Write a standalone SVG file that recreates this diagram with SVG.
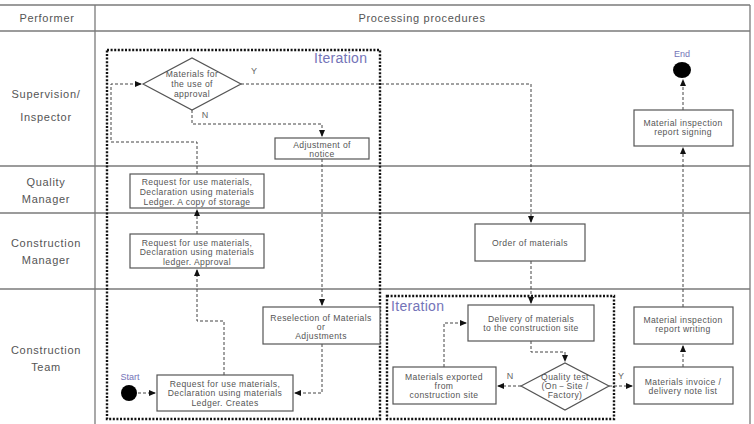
<svg xmlns="http://www.w3.org/2000/svg" width="754" height="424" viewBox="0 0 754 424">
<style>
.grid{stroke:#7a7a7a;stroke-width:1.3;fill:none}
.hdr{font-family:"Liberation Sans",Arial,sans-serif;font-size:11px;fill:#555;text-anchor:middle;letter-spacing:0.7px}
.box{fill:#fff;stroke:#555;stroke-width:1.2}
.t{font-family:"Liberation Sans",Arial,sans-serif;font-size:8.6px;fill:#555;text-anchor:middle;letter-spacing:0.4px}
.lbl{font-family:"Liberation Sans",Arial,sans-serif;font-size:9px;fill:#666;text-anchor:middle}
.iter{fill:none;stroke:#111;stroke-width:2.4;stroke-dasharray:2 1.6}
.itl{font-family:"Liberation Sans",Arial,sans-serif;font-size:14px;fill:#7474b8;letter-spacing:0.3px}
.blue{font-family:"Liberation Sans",Arial,sans-serif;font-size:9px;fill:#7474b8;text-anchor:middle}
.c{fill:none;stroke:#444;stroke-width:1;stroke-dasharray:3 2}
</style>
<defs>
<marker id="ah" markerWidth="7" markerHeight="6" refX="6" refY="3" orient="auto" markerUnits="userSpaceOnUse">
<path d="M0,0 L7,3 L0,6 z" fill="#111"/>
</marker>
</defs>
<rect width="754" height="424" fill="#fff"/>
<g id="table">
<line class="grid" x1="0" y1="5" x2="750" y2="5"/>
<line class="grid" x1="0" y1="31" x2="750" y2="31"/>
<line class="grid" x1="0" y1="166" x2="750" y2="166"/>
<line class="grid" x1="0" y1="213" x2="750" y2="213"/>
<line class="grid" x1="0" y1="289" x2="750" y2="289"/>
<line class="grid" x1="95" y1="5" x2="95" y2="424"/>
<line class="grid" x1="750" y1="5" x2="750" y2="424"/>
<text class="hdr" x="47" y="22">Performer</text>
<text class="hdr" x="422" y="22">Processing procedures</text>
<text class="hdr" x="46" y="98">Supervision/</text>
<text class="hdr" x="46" y="121">Inspector</text>
<text class="hdr" x="46" y="186">Quality</text>
<text class="hdr" x="46" y="203">Manager</text>
<text class="hdr" x="46" y="247">Construction</text>
<text class="hdr" x="46" y="264">Manager</text>
<text class="hdr" x="46" y="354">Construction</text>
<text class="hdr" x="46" y="371">Team</text>
</g>
<g id="iteration1">
<rect class="iter" x="107" y="50" width="273" height="369"/>
<text class="itl" x="314" y="63">Iteration</text>
</g>
<g id="iteration2">
<rect class="iter" x="387" y="296" width="227" height="123"/>
<text class="itl" x="391" y="311">Iteration</text>
</g>
<g id="connectors">
<path class="c" d="M241,84 H531 V222" marker-end="url(#ah)"/>
<path class="c" d="M192,110 V124 H322 V136" marker-end="url(#ah)"/>
<path class="c" d="M322,159 V305" marker-end="url(#ah)"/>
<path class="c" d="M322,344 V393 H295" marker-end="url(#ah)"/>
<path class="c" d="M138,393 H155" marker-end="url(#ah)"/>
<path class="c" d="M224,375 V321 H197 V270" marker-end="url(#ah)"/>
<path class="c" d="M197,234 V210" marker-end="url(#ah)"/>
<path class="c" d="M197,174 V142 H111 V84 H141" marker-end="url(#ah)"/>
<path class="c" d="M531,261 V303" marker-end="url(#ah)"/>
<path class="c" d="M531,341 V352 H565 V361" marker-end="url(#ah)"/>
<path class="c" d="M521,386 H498" marker-end="url(#ah)"/>
<path class="c" d="M444,367 V323 H466" marker-end="url(#ah)"/>
<path class="c" d="M609,386 H632" marker-end="url(#ah)"/>
<path class="c" d="M683,367 V346" marker-end="url(#ah)"/>
<path class="c" d="M683,307 V148" marker-end="url(#ah)"/>
<path class="c" d="M683,110 V80" marker-end="url(#ah)"/>
<text class="lbl" x="254" y="74">Y</text>
<text class="lbl" x="205" y="118">N</text>
<text class="lbl" x="510" y="379">N</text>
<text class="lbl" x="621" y="379">Y</text>
</g>
<g id="start">
<circle cx="129" cy="393" r="8" fill="#000"/>
<text class="blue" x="130" y="380">Start</text>
</g>
<g id="end">
<ellipse cx="682" cy="70" rx="9" ry="8" fill="#000"/>
<text class="blue" x="682" y="57">End</text>
</g>
<g id="approval">
<polygon class="box" points="143,84 192,58 241,84 192,110"/>
<text class="t" x="192" y="77">Materials for</text>
<text class="t" x="192" y="87">the use of</text>
<text class="t" x="192" y="97">approval</text>
</g>
<g id="adjustment">
<rect class="box" x="275" y="138" width="94" height="21"/>
<text class="t" x="322" y="148">Adjustment of</text>
<text class="t" x="322" y="157">notice</text>
</g>
<g id="storage">
<rect class="box" x="130" y="174" width="134" height="34"/>
<text class="t" x="197" y="185">Request for use materials,</text>
<text class="t" x="197" y="195">Declaration using materials</text>
<text class="t" x="197" y="205">Ledger. A copy of storage</text>
</g>
<g id="approvalbox">
<rect class="box" x="130" y="234" width="134" height="34"/>
<text class="t" x="197" y="246">Request for use materials,</text>
<text class="t" x="197" y="255">Declaration using materials</text>
<text class="t" x="197" y="265">ledger. Approval</text>
</g>
<g id="reselection">
<rect class="box" x="263" y="307" width="117" height="37"/>
<text class="t" x="321" y="321">Reselection of Materials</text>
<text class="t" x="321" y="330">or</text>
<text class="t" x="321" y="339">Adjustments</text>
</g>
<g id="creates">
<rect class="box" x="157" y="375" width="136" height="36"/>
<text class="t" x="225" y="387">Request for use materials,</text>
<text class="t" x="225" y="396">Declaration using materials</text>
<text class="t" x="225" y="406">Ledger. Creates</text>
</g>
<g id="order">
<rect class="box" x="475" y="224" width="110" height="37"/>
<text class="t" x="530" y="246">Order of materials</text>
</g>
<g id="delivery">
<rect class="box" x="468" y="305" width="126" height="36"/>
<text class="t" x="531" y="322">Delivery of materials</text>
<text class="t" x="531" y="331">to the construction site</text>
</g>
<g id="quality">
<polygon class="box" points="521,386 565,363 609,386 565,410"/>
<text class="t" x="565" y="380">Quality test</text>
<text class="t" x="565" y="389">(On－Site /</text>
<text class="t" x="565" y="398">Factory)</text>
</g>
<g id="exported">
<rect class="box" x="393" y="367" width="103" height="37"/>
<text class="t" x="444" y="380">Materials exported</text>
<text class="t" x="444" y="389">from</text>
<text class="t" x="444" y="398">construction site</text>
</g>
<g id="invoice">
<rect class="box" x="634" y="367" width="99" height="37"/>
<text class="t" x="683" y="385">Materials invoice /</text>
<text class="t" x="683" y="394">delivery note list</text>
</g>
<g id="writing">
<rect class="box" x="634" y="307" width="99" height="37"/>
<text class="t" x="683" y="323">Material inspection</text>
<text class="t" x="683" y="332">report writing</text>
</g>
<g id="signing">
<rect class="box" x="634" y="110" width="99" height="36"/>
<text class="t" x="683" y="126">Material inspection</text>
<text class="t" x="683" y="135">report signing</text>
</g>
</svg>
